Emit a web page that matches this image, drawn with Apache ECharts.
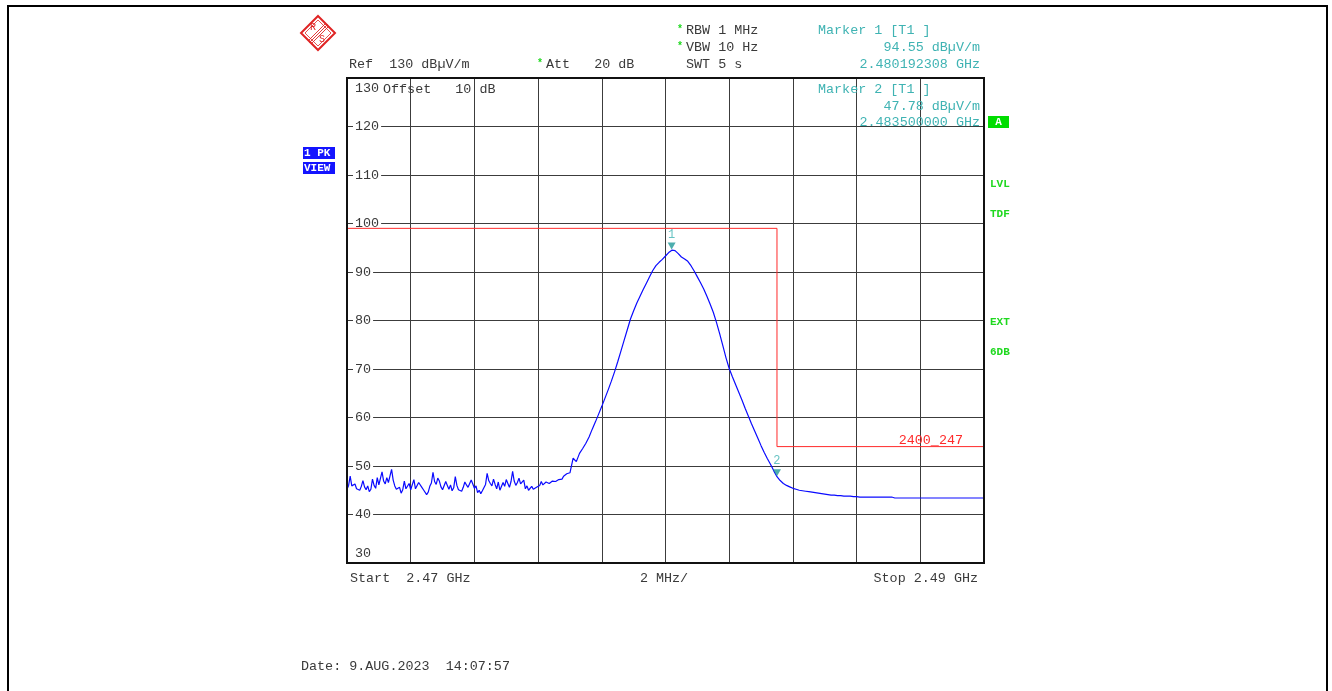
<!DOCTYPE html>
<html>
<head>
<meta charset="utf-8">
<script src="https://cdn.jsdelivr.net/npm/echarts@6/dist/echarts.min.js"></script>
<style>
html,body{margin:0;padding:0;background:#fff;}
#chart{width:1332px;height:691px;}
</style>
</head>
<body>
<div id="chart"></div>
<script>
// Span: 2470 MHz .. 2490 MHz
const sweepStartMHz = 2470;
const sweepStopMHz = 2490;
const xStepMHz = 2;
// Trace part 1 (noise floor), 2470.00 .. 2477.00 MHz every 0.05 MHz
const noiseStartMHz = 2470;
const noiseStepMHz = 0.05;
const noiseLevels = [
  45.2, 46.0, 47.9, 45.9, 45.6, 46.3, 45.3, 45.0, 45.0, 45.8,
  47.0, 45.7, 45.1, 45.9, 44.7, 45.2, 47.3, 46.0, 45.4, 47.6,
  46.1, 45.8, 48.8, 46.9, 46.3, 47.6, 46.6, 46.2, 49.3, 47.1,
  45.9, 45.2, 44.8, 45.6, 44.4, 45.1, 46.9, 45.3, 45.2, 46.4,
  45.1, 44.9, 47.2, 45.3, 45.0, 46.6, 46.7, 45.6, 45.1, 44.8,
  44.1, 44.6, 45.8, 46.5, 48.7, 46.8, 46.2, 47.5, 46.9, 45.7,
  45.1, 44.9, 46.8, 46.0, 45.2, 46.1, 44.9, 45.5, 47.8, 46.0,
  45.1, 44.7, 44.8, 45.6, 46.7, 46.1, 45.6, 45.2, 47.1, 46.3,
  45.4, 45.9, 44.5, 45.0, 44.3, 44.9, 45.3, 46.2, 48.5, 47.0,
  46.4, 45.9, 47.3, 46.2, 45.3, 46.7, 45.0, 45.4, 46.6, 45.8,
  47.2, 46.4, 45.6, 46.8, 48.9, 46.9, 46.0, 46.6, 47.5, 46.3,
  46.1, 47.1, 45.3, 45.9, 45.0, 45.4, 45.8, 45.2, 44.9, 45.6,
  45.4, 46.0, 46.8, 46.1, 46.3, 46.7, 47.0, 46.4, 46.5, 46.9,
  47.3, 46.8, 46.9, 47.2, 47.6, 47.3, 47.9, 48.1, 48.4, 48.0,
  48.6
];
// Trace part 2 (signal and upper band), 2477.1 .. 2490.0 MHz every 0.1 MHz
const signalStartMHz = 2477.1;
const signalStepMHz = 0.1;
const signalLevels = [
  51.6, 50.9, 52.6, 53.6, 54.7, 56.0, 57.6, 59.1, 60.7,
  62.3, 64.0, 65.7, 67.5, 69.4, 71.5, 73.7, 75.9, 78.1, 80.3,
  82.0, 83.6, 85.0, 86.4, 87.7, 89.0, 90.3, 91.3, 92.0, 92.6,
  93.3, 94.0, 94.5, 94.4, 93.8, 93.1, 92.7, 92.2, 91.3, 90.2,
  89.0, 87.8, 86.5, 85.0, 83.4, 81.7, 79.6, 77.3, 74.8, 72.3,
  70.1, 68.4, 66.8, 65.2, 63.6, 61.9, 60.3, 58.7, 57.2, 55.7,
  54.2, 52.8, 51.5, 50.3, 49.0, 47.8, 47.0, 46.4, 46.0, 45.7,
  45.4, 45.2, 45.0, 44.9, 44.8, 44.7, 44.6, 44.5, 44.4, 44.3,
  44.2, 44.1, 44.0, 44.0, 43.9, 43.9, 43.8, 43.8, 43.8, 43.7,
  43.7, 43.6, 43.6, 43.6, 43.6, 43.6, 43.6, 43.6, 43.6, 43.6,
  43.6, 43.6, 43.4, 43.4, 43.4, 43.4, 43.4, 43.4, 43.4, 43.4,
  43.4, 43.4, 43.4, 43.4, 43.4, 43.4, 43.4, 43.4, 43.4, 43.4,
  43.4, 43.4, 43.4, 43.4, 43.4, 43.4, 43.4, 43.4, 43.4, 43.4,
  43.4
];
// Limit line "2400_247"
const limitFreqsMHz = [2470, 2483.5, 2483.5, 2490];
const limitLevels = [99.0, 99.0, 54.0, 54.0];
const limitName = '2400_247';
// Markers
const markerNames = ['1', '2'];
const markerFreqsMHz = [2480.192308, 2483.5];
const markerLevels = [94.55, 47.78];
// Level axis
const yMin = 30, yMax = 130, yStep = 10;

const traceData = noiseLevels.map((v, i) => [noiseStartMHz + i * noiseStepMHz, v])
  .concat(signalLevels.map((v, i) => [signalStartMHz + i * signalStepMHz, v]));
const limitData = limitFreqsMHz.map((f, i) => [f, limitLevels[i]]);
const markerData = markerFreqsMHz.map((f, i) => ({ value: [f, markerLevels[i]], name: markerNames[i] }));

const MONO = '"Liberation Mono", "DejaVu Sans Mono", monospace';
const FS = 13.4;
const TXT = '#3a3a3a';
const TEAL = '#3fb3b3';
const GREEN = '#1fd81f';

function t(x, y, text, opt) {
  opt = opt || {};
  return {
    type: 'text', x: x, y: y, z: 100,
    style: {
      text: text,
      fill: opt.fill || TXT,
      font: opt.font || (FS + 'px ' + MONO),
      textAlign: opt.align || 'left',
      textVerticalAlign: 'middle'
    }
  };
}

const chart = echarts.init(document.getElementById('chart'));
chart.setOption({
  animation: false,
  backgroundColor: '#fff',
  grid: { left: 347, right: 348, top: 78, bottom: 128, show: true, borderColor: '#111', borderWidth: 2, backgroundColor: 'transparent', z: 10 },
  xAxis: {
    type: 'value', min: sweepStartMHz, max: sweepStopMHz, interval: xStepMHz,
    axisLine: { show: false }, axisTick: { show: false },
    splitLine: { show: true, lineStyle: { color: '#3c3c3c', width: 1 } },
    axisLabel: {
      show: true, margin: 9, color: TXT, fontFamily: MONO, fontSize: FS,
      padding: [0, 6, 0, 3],
      alignMinLabel: 'left', alignMaxLabel: 'right',
      formatter: function (v) {
        if (Math.abs(v - sweepStartMHz) < 1e-6) return 'Start  ' + (sweepStartMHz / 1000).toFixed(2) + ' GHz';
        if (Math.abs(v - sweepStopMHz) < 1e-6) return 'Stop ' + (sweepStopMHz / 1000).toFixed(2) + ' GHz';
        if (Math.abs(v - (sweepStartMHz + sweepStopMHz) / 2) < 1e-6) return xStepMHz + ' MHz/';
        return '';
      }
    }
  },
  yAxis: {
    type: 'value', min: yMin, max: yMax, interval: yStep,
    axisLine: { show: false }, axisTick: { show: false },
    splitLine: { show: true, lineStyle: { color: '#3c3c3c', width: 1 } },
    axisLabel: {
      inside: true, margin: 6, color: TXT, fontFamily: MONO, fontSize: FS,
      backgroundColor: '#fff', padding: [4, 2, 3, 2],
      verticalAlignMaxLabel: 'top', verticalAlignMinLabel: 'bottom'
    },
    z: 4
  },
  series: [
    {
      type: 'line', name: limitName, data: limitData, showSymbol: false, symbol: 'none',
      lineStyle: { color: '#ff2a2a', width: 1 }, z: 5, silent: true
    },
    {
      type: 'line', name: 'Trace 1', data: traceData, showSymbol: false, symbol: 'none',
      lineStyle: { color: '#0a0aff', width: 1.2 }, z: 6, silent: true
    },
    {
      type: 'scatter', name: 'Markers', data: markerData,
      symbol: 'triangle', symbolRotate: 180, symbolSize: [8, 7], symbolOffset: [0, -4],
      itemStyle: { color: '#219a9a' }, z: 7,
      label: { show: true, position: 'top', distance: 2, formatter: '{b}', color: TEAL, fontFamily: MONO, fontSize: 12 }
    }
  ],
  graphic: [
    // page frame
    { type: 'polyline', z: 100, shape: { points: [[8, 700], [8, 6], [1327, 6], [1327, 700]] }, style: { stroke: '#000', lineWidth: 2, fill: null } },
    // R&S logo
    { type: 'polygon', z: 100, shape: { points: [[318, 16], [335, 33], [318, 50], [301, 33]] }, style: { stroke: '#e02424', lineWidth: 2, fill: null } },
    { type: 'polygon', z: 100, shape: { points: [[318, 20], [331, 33], [318, 46], [305, 33]] }, style: { stroke: '#e02424', lineWidth: 0.8, fill: null } },
    { type: 'line', z: 100, shape: { x1: 326, y1: 23, x2: 308, y2: 41 }, style: { stroke: '#e02424', lineWidth: 0.9 } },
    { type: 'line', z: 100, shape: { x1: 327.5, y1: 24.5, x2: 309.5, y2: 42.5 }, style: { stroke: '#e02424', lineWidth: 0.9 } },
    { type: 'line', z: 100, shape: { x1: 329, y1: 26, x2: 311, y2: 44 }, style: { stroke: '#e02424', lineWidth: 0.9 } },
    t(313, 27, 'R', { fill: '#e02424', font: '10px ' + MONO, align: 'center' }),
    t(322, 39, 'S', { fill: '#e02424', font: '10px ' + MONO, align: 'center' }),
    // header
    t(680, 29, '*', { fill: GREEN, font: 'bold 10px ' + MONO, align: 'center' }),
    t(686, 30, 'RBW 1 MHz'),
    t(680, 46, '*', { fill: GREEN, font: 'bold 10px ' + MONO, align: 'center' }),
    t(686, 47, 'VBW 10 Hz'),
    t(686, 64, 'SWT 5 s'),
    t(349, 64, 'Ref  130 dBµV/m'),
    t(540, 63, '*', { fill: GREEN, font: 'bold 10px ' + MONO, align: 'center' }),
    t(546, 64, 'Att   20 dB'),
    t(818, 30, 'Marker 1 [T1 ]', { fill: TEAL }),
    t(980, 47, '94.55 dBµV/m', { fill: TEAL, align: 'right' }),
    t(980, 64, '2.480192308 GHz', { fill: TEAL, align: 'right' }),
    t(818, 89, 'Marker 2 [T1 ]', { fill: TEAL }),
    t(980, 106, '47.78 dBµV/m', { fill: TEAL, align: 'right' }),
    t(980, 122, '2.483500000 GHz', { fill: TEAL, align: 'right' }),
    t(383, 89, 'Offset   10 dB'),
    // limit line name
    t(963, 440, limitName, { fill: '#ff2a2a', align: 'right' }),
    // right side status
    { type: 'rect', z: 100, shape: { x: 988, y: 116, width: 21, height: 12 }, style: { fill: '#00dd00' } },
    t(998.5, 122.5, 'A', { fill: '#fff', font: 'bold 11px ' + MONO, align: 'center' }),
    t(990, 184, 'LVL', { fill: GREEN, font: 'bold 11px ' + MONO }),
    t(990, 214, 'TDF', { fill: GREEN, font: 'bold 11px ' + MONO }),
    t(990, 322, 'EXT', { fill: GREEN, font: 'bold 11px ' + MONO }),
    t(990, 352, '6DB', { fill: GREEN, font: 'bold 11px ' + MONO }),
    // left side status
    { type: 'rect', z: 100, shape: { x: 303, y: 147, width: 32, height: 12 }, style: { fill: '#1414ff' } },
    t(304, 153, '1 PK', { fill: '#fff', font: 'bold 11px ' + MONO }),
    { type: 'rect', z: 100, shape: { x: 303, y: 162, width: 32, height: 12 }, style: { fill: '#1414ff' } },
    t(304, 168, 'VIEW', { fill: '#fff', font: 'bold 11px ' + MONO }),
    // date
    t(301, 666, 'Date: 9.AUG.2023  14:07:57')
  ]
});
</script>
</body>
</html>
